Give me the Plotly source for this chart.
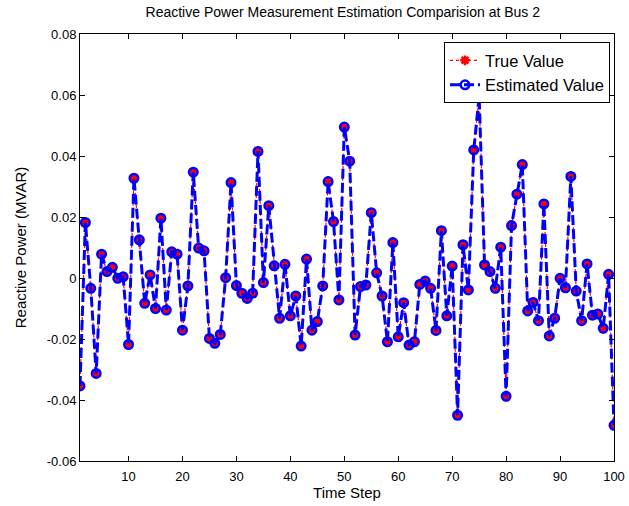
import plotly.graph_objects as go

# Time steps and reactive power measurements (MVAR) at bus 2
time_step = list(range(1, 101))

true_value = [
    -0.0354, 0.0182, -0.0034, -0.0313, 0.0078, 0.0021, 0.0035, -0.0001, 0.0004, -0.0218,
    0.0327, 0.0125, -0.0083, 0.0010, -0.0100, 0.0196, -0.0105, 0.0086, 0.0078, -0.0171,
    -0.0026, 0.0347, 0.0098, 0.0089, -0.0198, -0.0214, -0.0185, 0.0001, 0.0313, -0.0025,
    -0.0050, -0.0067, -0.0050, 0.0415, -0.0015, 0.0237, 0.0040, -0.0132, 0.0045, -0.0124,
    -0.0059, -0.0223, 0.0062, -0.0171, -0.0143, -0.0026, 0.0316, 0.0185, -0.0072, 0.0495,
    0.0383, -0.0187, -0.0028, -0.0023, 0.0214, 0.0017, -0.0059, -0.0209, 0.0116, -0.0193,
    -0.0081, -0.0220, -0.0209, -0.0021, -0.0010, -0.0034, -0.0172, 0.0155, -0.0124, 0.0039,
    -0.0450, 0.0109, -0.0039, 0.0420, 0.0596, 0.0043, 0.0021, -0.0034, 0.0101, -0.0388,
    0.0172, 0.0275, 0.0372, -0.0108, -0.0080, -0.0140, 0.0243, -0.0190, -0.0132, -0.0001,
    -0.0032, 0.0333, -0.0043, -0.0140, 0.0046, -0.0122, -0.0118, -0.0165, 0.0012, -0.0483,
]
estimated_value = list(true_value)

y_ticks = [-0.06, -0.04, -0.02, 0, 0.02, 0.04, 0.06, 0.08]
y_tick_text = ["-0.06", "-0.04", "-0.02", "0", "0.02", "0.04", "0.06", "0.08"]
x_ticks = [10, 20, 30, 40, 50, 60, 70, 80, 90, 100]

font_family = "Liberation Sans, Arial, sans-serif"

fig = go.Figure()

fig.add_trace(go.Scatter(
    x=time_step, y=true_value, name="True Value", mode="lines+markers",
    line=dict(color="#ff0000", width=1.2, dash="dot"),
    marker=dict(symbol="asterisk-open", size=8, color="#ff0000",
                line=dict(color="#ff0000", width=2.5)),
))

fig.add_trace(go.Scatter(
    x=time_step, y=estimated_value, name="Estimated Value", mode="lines+markers",
    line=dict(color="#0000ff", width=3, dash="10px,4px"),
    marker=dict(symbol="circle-open", size=8.5, color="#0000ff",
                line=dict(color="#0000ff", width=2.5)),
))

axis_common = dict(
    showline=True, linecolor="black", linewidth=1, mirror="ticks",
    ticks="inside", ticklen=5, tickcolor="black", tickwidth=1,
    showgrid=False, zeroline=False, automargin=False,
    tickfont=dict(family=font_family, size=13, color="black"),
)

fig.update_layout(
    width=629, height=506,
    margin=dict(l=80, r=15, t=34, b=45),
    paper_bgcolor="white", plot_bgcolor="white",
    font=dict(family=font_family, size=13, color="black"),
    title=dict(
        text="Reactive Power Measurement Estimation Comparision at Bus 2",
        x=0.545, xanchor="center", y=0.985, yanchor="top",
        font=dict(family=font_family, size=14, color="black"),
    ),
    xaxis=dict(
        range=[1, 100], tickvals=x_ticks, ticklabelstandoff=3,
        title=dict(text="Time Step", standoff=2,
                   font=dict(family=font_family, size=15, color="black")),
        **axis_common,
    ),
    yaxis=dict(
        range=[-0.06, 0.08], tickvals=y_ticks, ticktext=y_tick_text,
        title=dict(text="Reactive Power (MVAR)", standoff=16,
                   font=dict(family=font_family, size=15, color="black")),
        **axis_common,
    ),
    legend=dict(
        x=0.9925, xanchor="right", y=0.981, yanchor="top",
        bgcolor="white", bordercolor="black", borderwidth=1,
        font=dict(family=font_family, size=16.5, color="black"),
        tracegroupgap=0, itemwidth=30,
    ),
    showlegend=True,
)

fig.write_html("out.html")
